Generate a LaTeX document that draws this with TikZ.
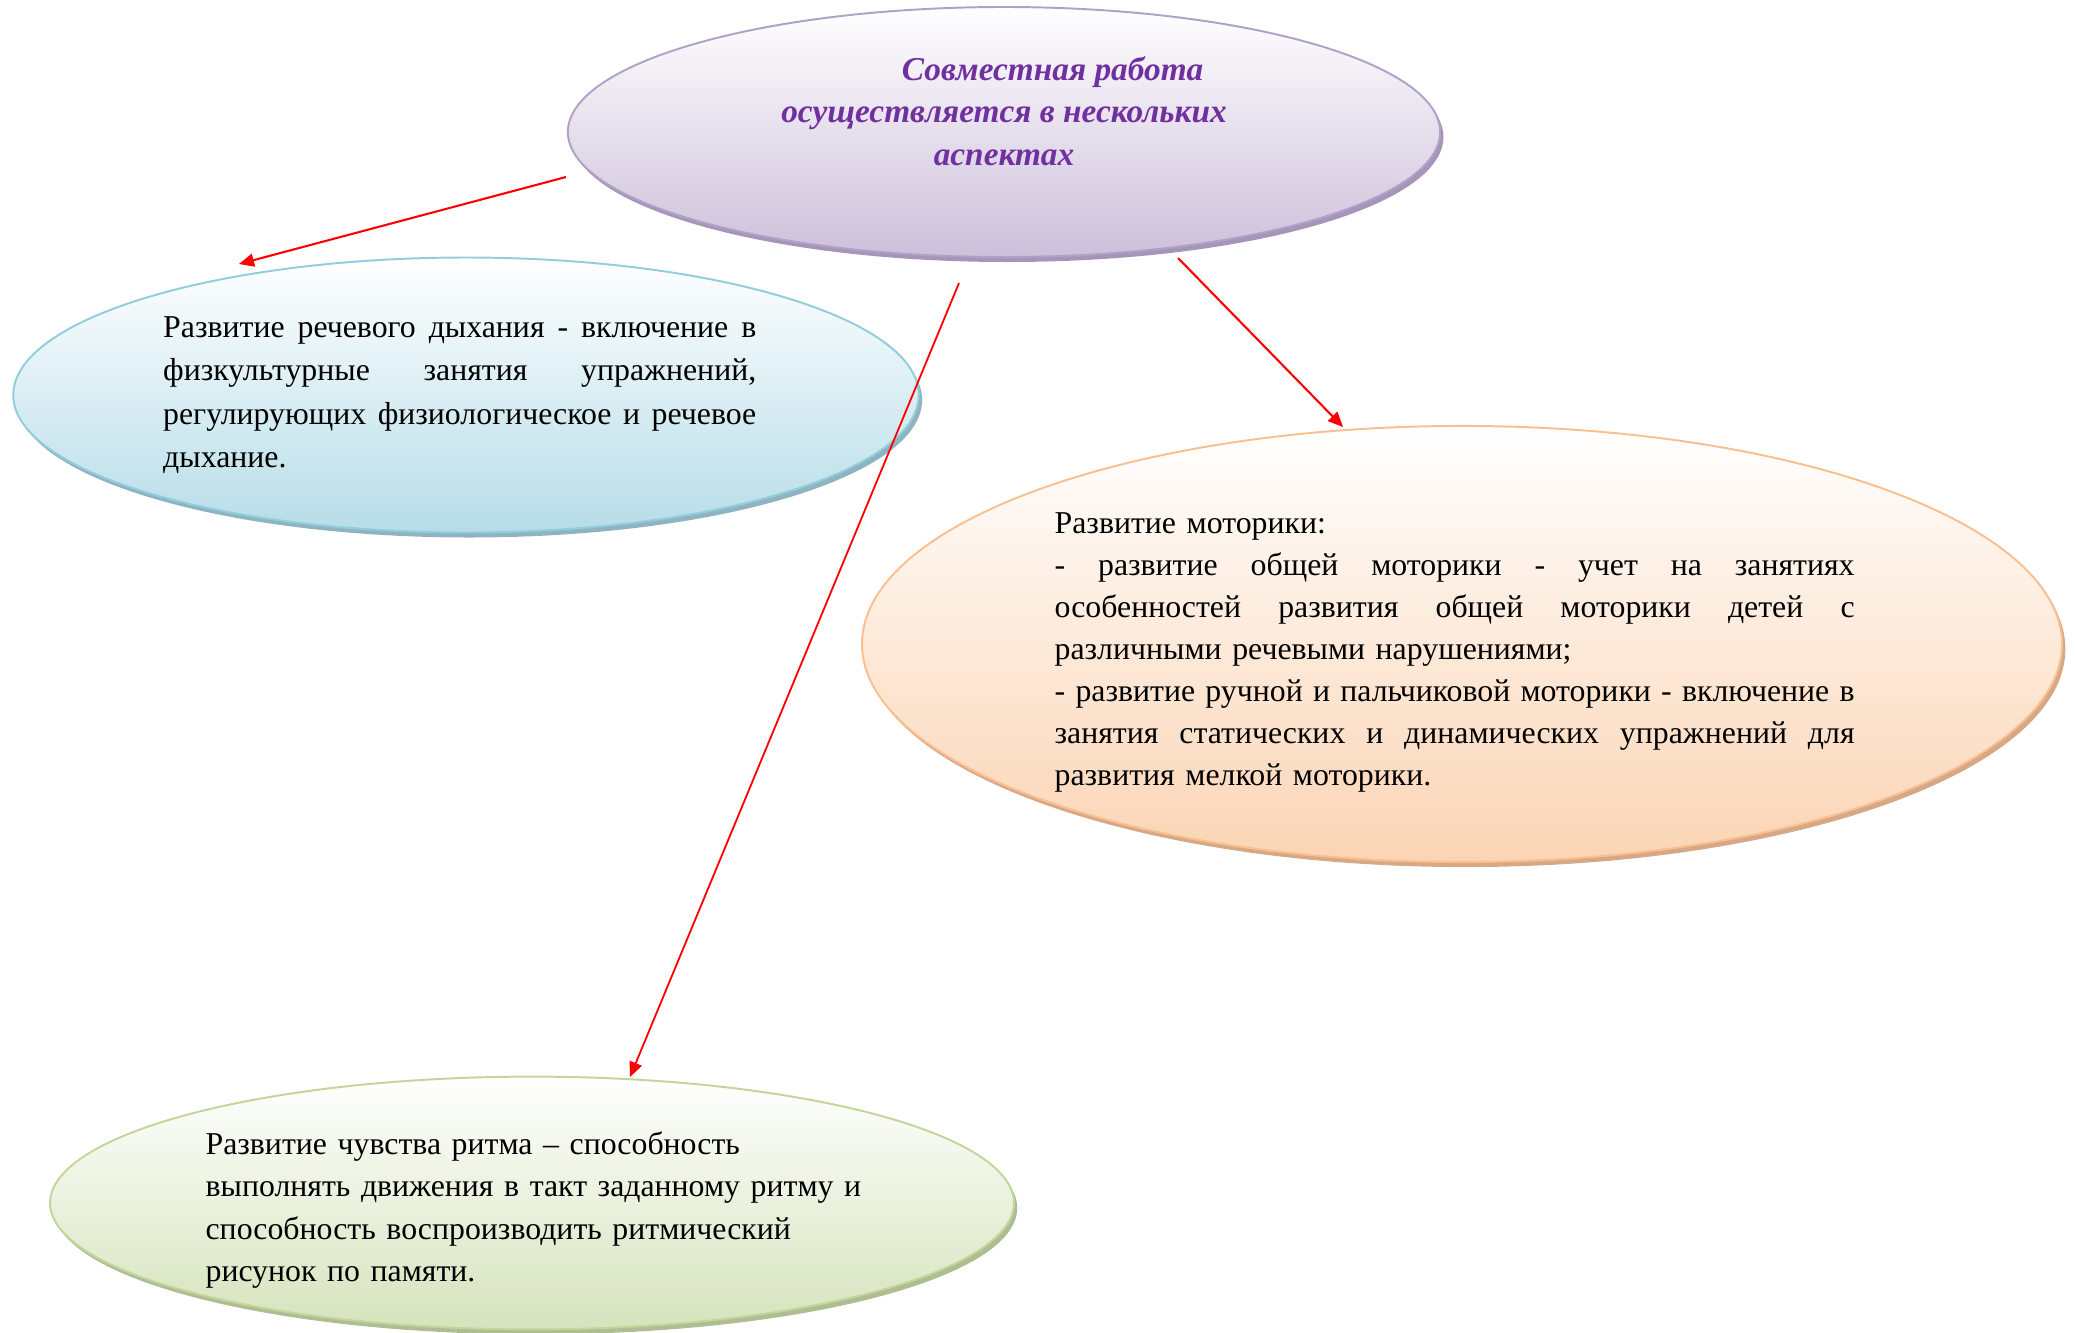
\documentclass[tikz,border=0pt]{standalone}
\usepackage{fontspec}
\setmainfont{Liberation Serif}
\usetikzlibrary{arrows.meta,shadows,shapes.geometric}
\definecolor{ttxt}{HTML}{7030A0}
\definecolor{pfill}{HTML}{CCC0DA}\definecolor{pdraw}{HTML}{B2A1C7}\definecolor{pshad}{HTML}{A595B8}
\definecolor{bfill}{HTML}{B6DDE8}\definecolor{bdraw}{HTML}{92CDDC}\definecolor{bshad}{HTML}{8FB3C0}
\definecolor{ofill}{HTML}{FBD4B4}\definecolor{odraw}{HTML}{FABF8F}\definecolor{oshad}{HTML}{D6A886}
\definecolor{gfill}{HTML}{D6E3BC}\definecolor{gdraw}{HTML}{C2D69B}\definecolor{gshad}{HTML}{AFBD92}
\newcommand{\jw}[2]{\leavevmode\hbox to #1{\spaceskip=0.25em plus 3em minus 0.08em\relax #2}}
\newcommand{\nl}[1]{\leavevmode\hbox{#1}}
\tikzset{
  oval/.style n args={3}{ellipse, inner sep=0pt, line width=0.7pt, draw=#2,
    top color=white, bottom color=#1,
    drop shadow={shadow xshift=1.2pt, shadow yshift=-1.8pt, fill=#3, opacity=1}},
  body/.style={font=\fontsize{11.45}{15.6}\selectfont, align=left},
  conn/.style={red, line width=0.75pt, -{Triangle[length=5.4pt,width=4.7pt]}}
}
\begin{document}
\begin{tikzpicture}[x=0.36pt,y=-0.36pt]
\useasboundingbox (0,0) rectangle (2075,1332);
\node[oval={pfill}{pdraw}{pshad}, minimum width=314pt, minimum height=90pt,
      font=\fontsize{12}{15.2}\selectfont\bfseries\itshape, text=ttxt, align=center]
  (top) at (1004,132) {\hspace*{35pt}Совместная работа\\осуществляется в нескольких\hspace*{7pt}\\аспектах\hspace*{7pt}\\\mbox{}};
\node[oval={bfill}{bdraw}{bshad}, minimum width=326pt, minimum height=99pt, body, text width=218pt]
  (breath) at (466,395) {\jw{213.5pt}{Развитие речевого дыхания - включение в}\\
  \jw{213.5pt}{физкультурные занятия упражнений,}\\
  \jw{213.5pt}{регулирующих физиологическое и речевое}\\
  дыхание.};
\node[oval={ofill}{odraw}{oshad}, minimum width=432pt, minimum height=157pt,
      font=\fontsize{11.45}{15.15}\selectfont, align=left, text width=293.3pt]
  (motor) at (1462,644) {\rule{0pt}{13.5pt}Развитие моторики:\\
  \jw{288pt}{- развитие общей моторики - учет на занятиях}\\
  \jw{288pt}{особенностей развития общей моторики детей с}\\
  различными речевыми нарушениями;\\
  \jw{288pt}{- развитие ручной и пальчиковой моторики - включение в}\\
  \jw{288pt}{занятия статических и динамических упражнений для}\\
  развития мелкой моторики.};
\node[oval={gfill}{gdraw}{gshad}, minimum width=347pt, minimum height=91pt,
      font=\fontsize{11.45}{15.2}\selectfont, align=left, text width=235pt]
  (rhythm) at (532,1203) {\rule{0pt}{13.2pt}\nl{Развитие чувства ритма – способность}\\
  \nl{выполнять движения в такт заданному ритму и}\\
  \nl{способность воспроизводить ритмический}\\
  \nl{рисунок по памяти.}};
\coordinate (s1) at (566,177);
\coordinate (s2) at (1178,258);
\coordinate (s3) at (959,283);
\coordinate (e1) at (239,264);
\coordinate (e2) at (1343,427);
\coordinate (e3) at (630,1077);
\draw[conn] (s1) -- (e1);
\draw[conn] (s2) -- (e2);
\draw[conn, line width=0.65pt] (s3) -- (e3);
\end{tikzpicture}
\end{document}
